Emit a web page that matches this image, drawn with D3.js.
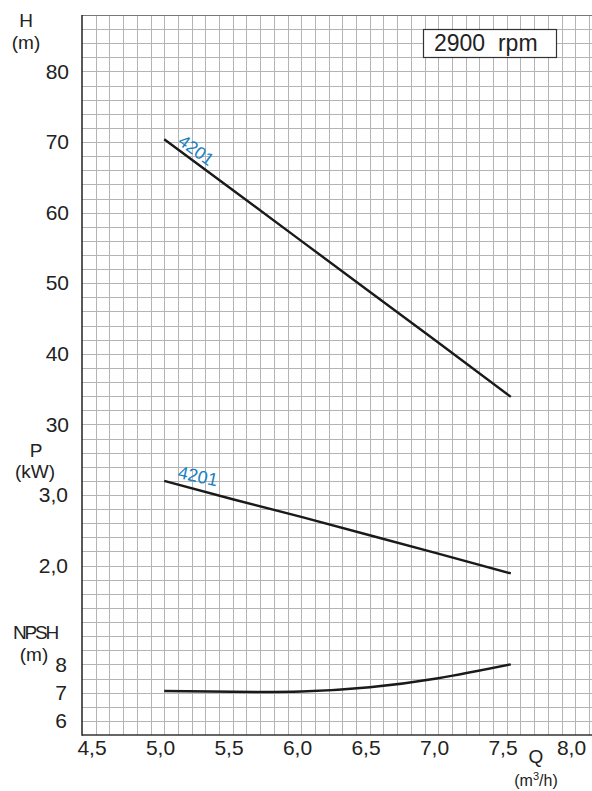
<!DOCTYPE html>
<html>
<head>
<meta charset="utf-8">
<script src="https://cdn.jsdelivr.net/npm/d3@7"></script>
<style>
  body { margin: 0; background: #fff; }
  svg { display: block; font-family: "Liberation Sans", Arial, sans-serif; }
</style>
</head>
<body>
<div class="chart"></div>
<script>
// flow values (m3/h)
var qH = [5.0, 5.5, 6.0, 6.5, 7.0, 7.53];
var headH = [70.4, 63.2, 56.0, 48.8, 41.6, 33.9];

var qP = [5.0, 5.5, 6.0, 6.5, 7.0, 7.53];
var powerP = [3.2, 2.94, 2.69, 2.43, 2.17, 1.89];

var qN = [5.0, 5.5, 6.0, 6.5, 7.0, 7.53];
var npshN = [7.06, 7.03, 7.04, 7.19, 7.51, 8.0];

var xTicks = [4.5, 5.0, 5.5, 6.0, 6.5, 7.0, 7.5, 8.0];
var hTicks = [30, 40, 50, 60, 70, 80];
var pTicks = [2.0, 3.0];
var nTicks = [6, 7, 8];

var curveLabel = "4201";
var speedLabel = "2900\u00a0\u00a0rpm";

var width = 592, height = 791;
var gLeft = 82, gTop = 15, gBottom = 735;

var svg = d3.select(".chart").append("svg")
    .attr("width", width)
    .attr("height", height);

// one grid cell = 0.1 m3/h horizontally
var x = d3.scaleLinear().domain([4.4, 8.1]).range([gLeft, gLeft + 37 * 13.7]);
// 51 grid rows from top to bottom, each axis shares them
var row = d3.scaleLinear().domain([0, 51]).range([gTop, gBottom]);
var yH = d3.scaleLinear().domain([88, 88 - 2 * 51]).range([gTop, gBottom]);
var yP = d3.scaleLinear().domain([9.8, 9.8 - 0.2 * 51]).range([gTop, gBottom]);
var yN = d3.scaleLinear().domain([31, 31 - 51 / 2]).range([gTop, gBottom]);

var comma = d => d3.format(".1f")(d).replace(".", ",");

// grid
var grid = svg.append("g")
    .attr("stroke", "#b4b4b4")
    .attr("stroke-width", 1);

grid.selectAll("line.v")
    .data(d3.range(45, 82).map(d => d / 10))
    .join("line")
    .attr("class", "v")
    .attr("x1", d => Math.round(x(d)) + 0.5)
    .attr("x2", d => Math.round(x(d)) + 0.5)
    .attr("y1", gTop)
    .attr("y2", gBottom);

grid.selectAll("line.h")
    .data(d3.range(1, 51))
    .join("line")
    .attr("class", "h")
    .attr("x1", gLeft)
    .attr("x2", width)
    .attr("y1", d => Math.round(row(d)) + 0.5)
    .attr("y2", d => Math.round(row(d)) + 0.5);

// frame
svg.append("line")
    .attr("x1", gLeft).attr("x2", width)
    .attr("y1", gTop + 0.5).attr("y2", gTop + 0.5)
    .attr("stroke", "#777").attr("stroke-width", 1.2);
svg.append("line")
    .attr("x1", gLeft).attr("x2", width)
    .attr("y1", gBottom).attr("y2", gBottom)
    .attr("stroke", "#333").attr("stroke-width", 1.5);
svg.append("line")
    .attr("x1", gLeft).attr("x2", gLeft)
    .attr("y1", gTop).attr("y2", gBottom + 0.7)
    .attr("stroke", "#222").attr("stroke-width", 1.5);

// axes (labels only)
function styleAxis(g) {
    g.select(".domain").remove();
    g.selectAll("text")
        .attr("fill", "#222")
        .style("font-size", "21px")
        .style("font-family", "'Liberation Sans', Arial, sans-serif");
}

svg.append("g")
    .attr("transform", "translate(0," + gBottom + ")")
    .call(d3.axisBottom(x).tickValues(xTicks).tickSize(0).tickPadding(5).tickFormat(comma))
    .call(styleAxis)
    .selectAll("text").attr("dx", "-0.2em");

svg.append("g")
    .attr("transform", "translate(" + (gLeft - 13) + ",0)")
    .call(d3.axisLeft(yH).tickValues(hTicks).tickSize(0).tickPadding(0).tickFormat(d3.format("d")))
    .call(styleAxis);

svg.append("g")
    .attr("transform", "translate(" + (gLeft - 14) + ",0)")
    .call(d3.axisLeft(yP).tickValues(pTicks).tickSize(0).tickPadding(0).tickFormat(comma))
    .call(styleAxis);

svg.append("g")
    .attr("transform", "translate(" + (gLeft - 15) + ",0)")
    .call(d3.axisLeft(yN).tickValues(nTicks).tickSize(0).tickPadding(0).tickFormat(d3.format("d")))
    .call(styleAxis);

// axis titles
var titles = svg.append("g")
    .attr("fill", "#222")
    .attr("text-anchor", "middle")
    .style("font-size", "19px");

titles.append("text").attr("x", 26).attr("y", 27).text("H");
titles.append("text").attr("x", 26).attr("y", 49).text("(m)");
titles.append("text").attr("x", 36).attr("y", 457).text("P");
titles.append("text").attr("x", 35).attr("y", 478).text("(kW)");
titles.append("text").attr("x", 35).attr("y", 639).attr("letter-spacing", "-2.2px").text("NPSH");
titles.append("text").attr("x", 34).attr("y", 661).text("(m)");
titles.append("text").attr("x", 536).attr("y", 763).text("Q");
var unit = titles.append("text").attr("x", 536).attr("y", 786).style("font-size", "16px");
unit.append("tspan").text("(m");
unit.append("tspan").attr("dy", -6).style("font-size", "11px").text("3");
unit.append("tspan").attr("dy", 6).text("/h)");

// curves
var lineH = d3.line().x(d => x(d[0])).y(d => yH(d[1]));
var lineP = d3.line().x(d => x(d[0])).y(d => yP(d[1]));
var lineN = d3.line().x(d => x(d[0])).y(d => yN(d[1])).curve(d3.curveNatural);

var curves = svg.append("g")
    .attr("fill", "none")
    .attr("stroke", "#1a1a1a")
    .attr("stroke-width", 2.4);

curves.append("path").attr("d", lineH(d3.zip(qH, headH)));
curves.append("path").attr("d", lineP(d3.zip(qP, powerP)));
curves.append("path").attr("d", lineN(d3.zip(qN, npshN)));

// curve labels
svg.append("text")
    .attr("transform", "translate(177,143.5) rotate(36)")
    .attr("fill", "#1a7fc4")
    .style("font-size", "17.5px")
    .text(curveLabel);

svg.append("text")
    .attr("transform", "translate(177,478) rotate(12)")
    .attr("fill", "#1a7fc4")
    .style("font-size", "18px")
    .text(curveLabel);

// speed box
svg.append("rect")
    .attr("x", 423.5).attr("y", 29.5)
    .attr("width", 133).attr("height", 28)
    .attr("fill", "#fff")
    .attr("stroke", "#333")
    .attr("stroke-width", 1.2);

svg.append("text")
    .attr("x", 434).attr("y", 51)
    .attr("fill", "#222")
    .style("font-size", "23px")
    .text(speedLabel);
</script>
</body>
</html>
